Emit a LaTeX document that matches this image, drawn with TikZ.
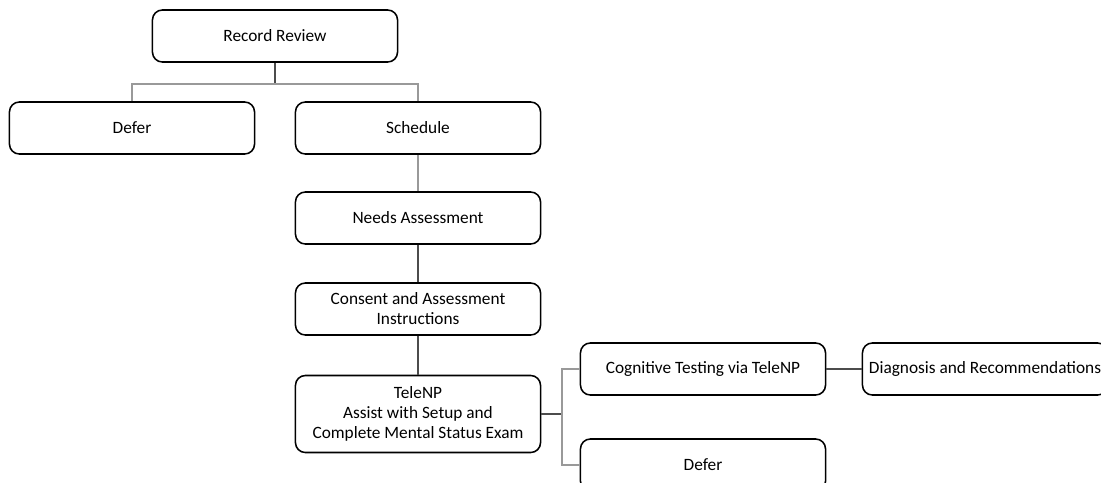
\documentclass[tikz,border=0pt]{standalone}
\usepackage{fontspec}
\setmainfont{Carlito}
\usetikzlibrary{calc}

\tikzset{
  stepbox/.style={draw=black, line width=1.1pt, rounded corners=7pt, fill=white,
    minimum width=6.125cm, minimum height=1.3cm, align=center, inner sep=2pt,
    font=\fontsize{12.3}{14.2}\selectfont},
  lightlink/.style={draw=black!40, line width=0.8pt},
  darklink/.style={draw=black!70, line width=0.8pt}
}

\begin{document}
\begin{tikzpicture}[x=0.025cm, y=-0.025cm]
			%%%%% START %%%%%
			\useasboundingbox (0,0) rectangle (1101,482);
			
			\node[stepbox] (record) at (275, 36) {Record Review};
			\node[stepbox] (deferA) at (132, 128) {Defer};
			\node[stepbox] (schedule) at (418, 128) {Schedule};
			
			\node[stepbox] (needs) at (418, 218) {Needs Assessment};
			\node[stepbox] (consent) at (418, 309) {Consent and Assessment\\Instructions};
			\node[stepbox, minimum height=1.925cm] (telenp) at (418, 414) {TeleNP\\Assist with Setup and\\Complete Mental Status Exam};
			
			\node[stepbox] (cognitive) at (703, 369) {Cognitive Testing via TeleNP};
			\node[stepbox] (diagnosis) at (985, 369) {Diagnosis and Recommendations};
			\node[stepbox] (deferB) at (703, 465) {Defer};
			
			\coordinate (bus) at (275, 84);
			\coordinate (fork) at (562, 414);
			
			\draw[darklink] (record.south) -- (bus);
			\draw[lightlink] (deferA.north) |- (bus) -| (schedule.north);
			\draw[lightlink] (schedule) -- (needs);
			\draw[darklink] (needs) -- (consent);
			\draw[darklink] (consent) -- (telenp);
			
			\draw[darklink] (telenp.east) -- (fork);
			\draw[lightlink] (cognitive.west) -| (fork) |- (deferB.west);
			\draw[darklink] (cognitive) -- (diagnosis);
			
			%%%%% END %%%%%
\end{tikzpicture}
\end{document}
